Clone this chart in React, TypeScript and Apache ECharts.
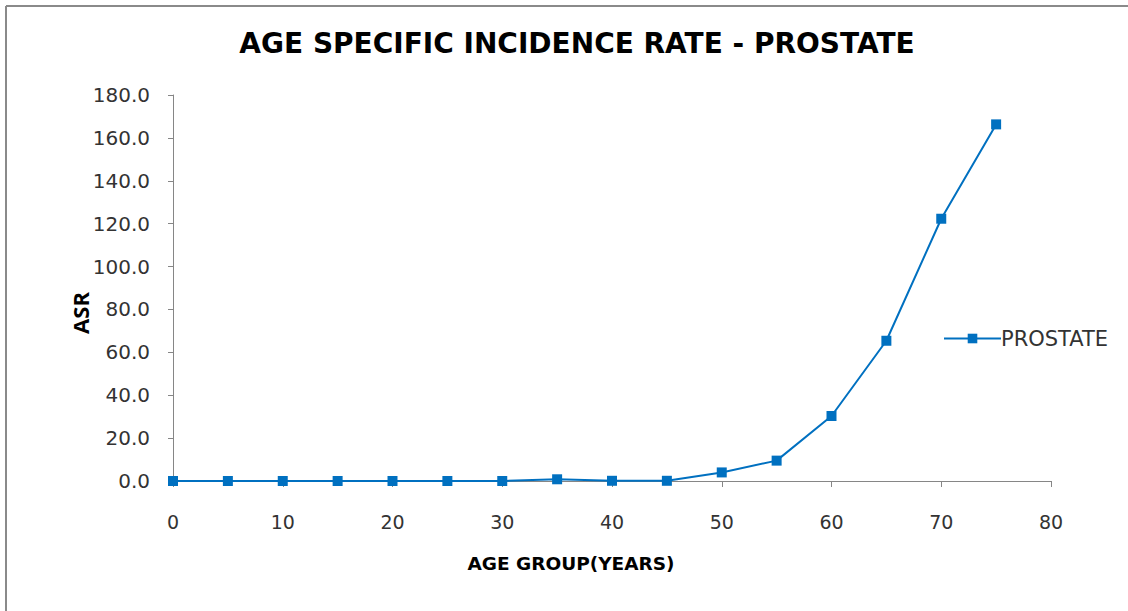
import React, { useEffect, useRef } from "react";
import * as echarts from "echarts";

const TITLE = "AGE SPECIFIC INCIDENCE RATE - PROSTATE";
const SERIES_NAME = "PROSTATE";
const ages = [0, 5, 10, 15, 20, 25, 30, 35, 40, 45, 50, 55, 60, 65, 70, 75];
const asr = [0, 0, 0, 0, 0, 0, 0, 0.8, 0.1, 0.1, 4.0, 9.5, 30.3, 65.4, 122.3, 166.3];
const X_NAME = "AGE GROUP(YEARS)";
const Y_NAME = "ASR";

export default function App() {
  const ref = useRef<HTMLDivElement>(null);
  useEffect(() => {
    if (!ref.current) return;
    const chart = echarts.init(ref.current, undefined, { renderer: "svg" });
    const blue = "#0070C0";
    chart.setOption({
      animation: false,
      backgroundColor: "#ffffff",
      title: {
        text: TITLE,
        left: 572,
        textAlign: "center",
        top: 24,
        textStyle: {
          fontFamily: "DejaVu Sans",
          fontSize: 28,
          fontWeight: "bold",
          color: "#000000",
        },
      },
      legend: {
        data: [SERIES_NAME],
        left: 938,
        top: 323,
        itemWidth: 57,
        itemHeight: 12,
        itemGap: 0,
        textStyle: {
          fontFamily: "DejaVu Sans",
          fontSize: 21,
          color: "#333333",
          padding: [0, 0, 0, -5],
        },
      },
      grid: { left: 173, right: 77, top: 95, bottom: 130, containLabel: false },
      xAxis: {
        type: "value",
        min: 0,
        max: 80,
        interval: 10,
        splitLine: { show: false },
        axisLine: { show: true, lineStyle: { color: "#868686", width: 1 } },
        axisTick: { show: true, length: 6, lineStyle: { color: "#868686" } },
        axisLabel: {
          margin: 31,
          fontFamily: "DejaVu Sans",
          fontSize: 19,
          color: "#333333",
        },
      },
      yAxis: {
        type: "value",
        min: 0,
        max: 180,
        interval: 20,
        splitLine: { show: false },
        axisLine: { show: true, lineStyle: { color: "#868686", width: 1 } },
        axisTick: { show: true, length: 5, lineStyle: { color: "#868686" } },
        axisLabel: {
          margin: 23,
          fontFamily: "DejaVu Sans",
          fontSize: 20,
          color: "#333333",
          formatter: (v: number) => v.toFixed(1),
        },
      },
      graphic: [
        {
          type: "line",
          shape: { x1: 6, y1: 6, x2: 1128, y2: 6 },
          style: { stroke: "#8a8a8a", lineWidth: 2 },
        },
        {
          type: "line",
          shape: { x1: 6, y1: 6, x2: 6, y2: 611 },
          style: { stroke: "#8a8a8a", lineWidth: 2 },
        },
        {
          type: "text",
          x: 571,
          y: 563,
          style: {
            text: X_NAME,
            fontFamily: "DejaVu Sans",
            fontSize: 18.5,
            fontWeight: "bold",
            fill: "#000000",
            align: "center",
            verticalAlign: "middle",
          },
        },
        {
          type: "text",
          x: 80,
          y: 313,
          rotation: Math.PI / 2,
          style: {
            text: Y_NAME,
            fontFamily: "Open Sans",
            fontSize: 22,
            fontWeight: "bold",
            fill: "#000000",
            align: "center",
            verticalAlign: "middle",
          },
        },
      ],
      series: [
        {
          name: SERIES_NAME,
          type: "line",
          data: ages.map((a, i) => [a, asr[i]]),
          symbol: "rect",
          symbolSize: 10,
          itemStyle: { color: blue },
          lineStyle: { color: blue, width: 2 },
        },
      ],
    });
    return () => chart.dispose();
  }, []);
  return (
    <div
      ref={ref}
      style={{ position: "absolute", left: 0, top: 0, width: 1128, height: 611 }}
    />
  );
}
